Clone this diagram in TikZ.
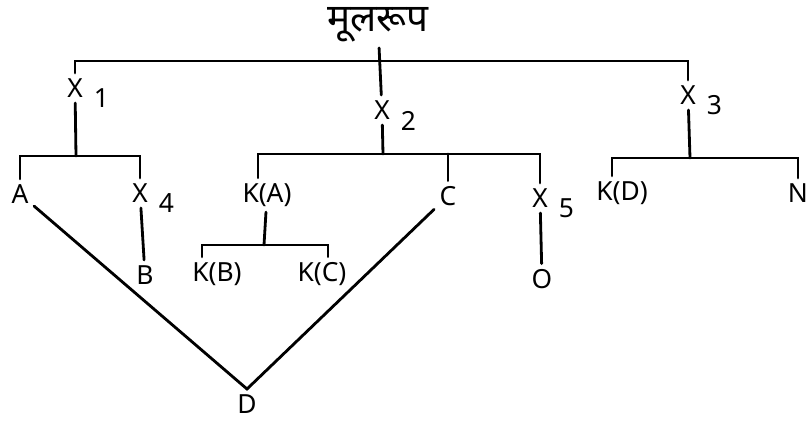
\documentclass[tikz,border=0pt]{standalone}
\usepackage{fontspec}
\setmainfont{Noto Sans}
\newfontfamily\devfont[Script=Devanagari]{Noto Sans}
\usetikzlibrary{calc, positioning}

\tikzset{
   lbl/.style={font=\fontsize{15}{17}\selectfont, inner sep=3pt},
   xvar/.style={lbl, label={[lbl, inner sep=0pt, anchor=west, xshift=3pt, yshift=-6pt]east:#1}},
   tree/.style={line width=1.6pt, line cap=round}
}

\begin{document}
\begin{tikzpicture}[x=0.02cm, y=-0.02cm]
            \useasboundingbox (0,0) rectangle (807,421);
            % Root
            \node[lbl, font=\devfont\fontsize{22}{26}\selectfont] (root) at (378,25) {मूलरूप};
            % First level
            \node[xvar=1] (x1) at (75,88) {X};
            \node[xvar=2] (x2) at (382,110) {X};
            \node[xvar=3] (x3) at (688,95) {X};
            % Second level
            \node[lbl] (a) at (20,194) {A};
            \node[xvar=4] (x4) at (140,193) {X};
            \node[lbl] (ka) at (267,195) {K(A)};
            \node[lbl] (c) at (448,196) {C};
            \node[xvar=5] (x5) at (540,198) {X};
            \node[lbl] (kd) at (622,193) {K(D)};
            \node[lbl] (n) at (798,193) {N};
            % Third level
            \node[lbl] (b) at (145,275) {B};
            \node[lbl] (kb) at (217,274) {K(B)};
            \node[lbl] (kc) at (322,274) {K(C)};
            \node[lbl] (o) at (542,279) {O};
            \node[lbl, inner sep=1pt] (d) at (247,404) {D};
            % Junctions on the bars
            \coordinate (j0) at (378,61);
            \coordinate (j1) at (76,156);
            \coordinate (j2) at (383,154);
            \coordinate (j3) at (690,158);
            \coordinate (j4) at (264,245);
            \coordinate (v) at (247,389);
            % Top bar
            \draw[tree] (root) -- (x2);
            \draw[tree] (x1) |- (j0) -| (x3);
            % Under X1
            \draw[tree] (x1) -- (j1);
            \draw[tree] (a) |- (j1) -| (x4);
            \draw[tree] (x4) -- (b);
            % Under X2
            \draw[tree] (x2) -- (j2);
            \draw[tree] ([xshift=-0.18cm]ka.north) |- (j2) -| (x5);
            \draw[tree] (c) -- (c |- j2);
            \draw[tree] (x5) -- (o);
            % Under K(A)
            \draw[tree] (ka) -- (j4);
            \draw[tree] ([xshift=-0.3cm]kb.north) |- (j4) -| ([xshift=0.12cm]kc.north);
            % Under X3
            \draw[tree] (x3) -- (j3);
            \draw[tree] ([xshift=-0.2cm]kd.north) |- (j3) -| (n);
            % A and C meet above D
            \draw[tree] (a) -- (v) -- (c);
         \end{tikzpicture}
\end{document}
